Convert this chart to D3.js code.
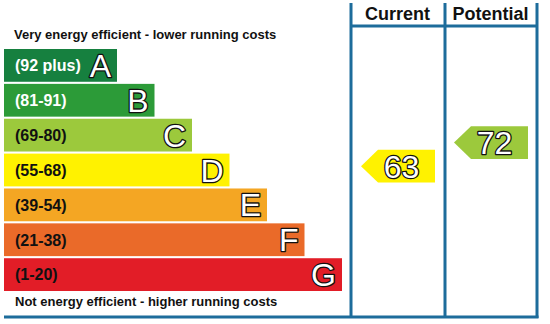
<!DOCTYPE html>
<html>
<head>
<meta charset="utf-8">
<script src="https://cdn.jsdelivr.net/npm/d3@7"></script>
<style>
  html, body { margin: 0; padding: 0; background: #fff; }
  svg { display: block; font-family: "Liberation Sans", Arial, sans-serif; }
  .outlined { paint-order: stroke; stroke-linejoin: round; }
</style>
</head>
<body>
<svg id="chart" width="550" height="324"></svg>
<script>
// Energy efficiency rating bands, best to worst
const bandLetters = ["A", "B", "C", "D", "E", "F", "G"];
const bandLabels  = ["(92 plus)", "(81-91)", "(69-80)", "(55-68)", "(39-54)", "(21-38)", "(1-20)"];
const bandLow     = [92, 81, 69, 55, 39, 21, 1];
const bandHigh    = [100, 91, 80, 68, 54, 38, 20];
const bandColors  = ["#16803f", "#2c9b38", "#9cc93c", "#fff200", "#f4a623", "#ea6a29", "#e21d27"];

// Ratings shown in the two columns
const columnNames  = ["Current", "Potential"];
const ratingValues = [63, 72];

const topText    = "Very energy efficient - lower running costs";
const bottomText = "Not energy efficient - higher running costs";

const svg = d3.select("#chart");
const blue = "#1d6c9b";

const bands = bandLetters.map((l, i) => ({
  letter: l, label: bandLabels[i], lo: bandLow[i], hi: bandHigh[i],
  color: bandColors[i], rank: i
}));

// Vertical layout of the bands
const y = d3.scaleBand().domain(bandLetters).range([49, 291]).paddingInner(0.06);
// Bar length grows with each step down the scale
const xEnd = d3.scaleLinear().domain([0, 6]).range([117, 342]);
const x0 = 4;

// Bars
const rows = svg.append("g").selectAll("g").data(bands).join("g");
rows.append("rect")
  .attr("x", x0)
  .attr("y", d => y(d.letter))
  .attr("width", d => xEnd(d.rank) - x0)
  .attr("height", y.bandwidth())
  .attr("fill", d => d.color);

rows.append("text")
  .attr("x", 15)
  .attr("y", d => y(d.letter) + y.bandwidth() / 2 + 5.8)
  .attr("font-size", 16)
  .attr("font-weight", "bold")
  .attr("fill", d => (d.letter === "A" || d.letter === "B") ? "#fff" : "#111")
  .text(d => d.label);

rows.append("text")
  .attr("class", "outlined")
  .attr("x", d => xEnd(d.rank) - 6)
  .attr("y", d => y(d.letter) + y.bandwidth() / 2 + 11.5)
  .attr("text-anchor", "end")
  .attr("font-size", 32)
  .attr("fill", "#fff")
  .attr("stroke", "#111")
  .attr("stroke-width", 2.6)
  .text(d => d.letter);

// Captions above and below the bars
svg.append("text").attr("x", 14).attr("y", 39)
  .attr("font-size", 13).attr("font-weight", "bold").attr("fill", "#111")
  .text(topText);
svg.append("text").attr("x", 15).attr("y", 306)
  .attr("font-size", 13).attr("font-weight", "bold").attr("fill", "#111")
  .text(bottomText);

// Rating columns
const colEdges = [351, 445, 537];
const col = d3.scaleBand().domain(columnNames).range([colEdges[0], colEdges[2]]);

colEdges.forEach(cx => {
  svg.append("line").attr("x1", cx).attr("x2", cx).attr("y1", 3).attr("y2", 318)
    .attr("stroke", blue).attr("stroke-width", 3);
});
svg.append("line").attr("x1", colEdges[0]).attr("x2", colEdges[2]).attr("y1", 26).attr("y2", 26)
  .attr("stroke", blue).attr("stroke-width", 3);
svg.append("line").attr("x1", x0).attr("x2", colEdges[2] + 1.5).attr("y1", 317).attr("y2", 317)
  .attr("stroke", blue).attr("stroke-width", 3);

svg.selectAll("text.colhead").data(columnNames).join("text")
  .attr("class", "colhead")
  .attr("x", d => col(d) + col.bandwidth() / 2)
  .attr("y", 20)
  .attr("text-anchor", "middle")
  .attr("font-size", 18)
  .attr("font-weight", "bold")
  .attr("fill", "#111")
  .text(d => d);

// Place a rating vertically within its band, proportional to the score
function bandOf(v) { return bands.find(d => v >= d.lo && v <= d.hi); }
function ratingY(v) {
  const b = bandOf(v);
  const s = d3.scaleLinear().domain([b.hi, b.lo]).range([y(b.letter), y(b.letter) + y.bandwidth()]);
  return s(v);
}

const arrows = svg.append("g").selectAll("g")
  .data(ratingValues.map((v, i) => ({ v, name: columnNames[i] })))
  .join("g");

const h = y.bandwidth();
arrows.append("path")
  .attr("d", d => {
    const cy = ratingY(d.v);
    const left = col(d.name) + 10, right = col(d.name) + col.bandwidth() - 9;
    const p = d3.path();
    p.moveTo(left, cy);
    p.lineTo(left + 17, cy - h / 2);
    p.lineTo(right, cy - h / 2);
    p.lineTo(right, cy + h / 2);
    p.lineTo(left + 17, cy + h / 2);
    p.closePath();
    return p.toString();
  })
  .attr("fill", d => bandOf(d.v).color);

arrows.append("text")
  .attr("class", "outlined")
  .attr("x", d => col(d.name) + col.bandwidth() / 2 + 4)
  .attr("y", d => ratingY(d.v) + 11.5)
  .attr("text-anchor", "middle")
  .attr("font-size", 32)
  .attr("fill", "#fff")
  .attr("stroke", "#111")
  .attr("stroke-width", 2.6)
  .text(d => d.v);
</script>
</body>
</html>
